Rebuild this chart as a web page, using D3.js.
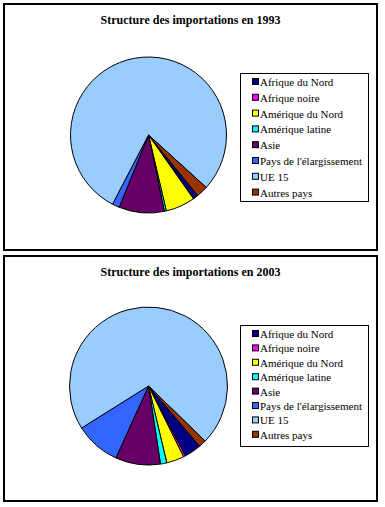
<!DOCTYPE html>
<html><head><meta charset="utf-8">
<script src="https://cdn.jsdelivr.net/npm/d3@7"></script>
<style>body{margin:0;background:#fff}svg{display:block}</style>
</head><body>
<script>
const categories = ["Afrique du Nord","Afrique noire","Amérique du Nord","Amérique latine","Asie","Pays de l'élargissement","UE 15","Autres pays"];
const colors = ["#000080","#FF00FF","#FFFF00","#00FFFF","#660066","#3366FF","#99CCFF","#993300"];
const values1993 = [1.0, 0.1, 6.1, 0.4, 9.4, 1.5, 79.1, 2.4];
const values2003 = [3.5, 0.4, 3.6, 1.3, 9.2, 9.3, 71.2, 1.5];
const titles = ["Structure des importations en 1993","Structure des importations en 2003"];

const svg = d3.select("body").append("svg").attr("width",385).attr("height",507);

const charts = [
  {title: titles[0], values: values1993, y0: 4, h: 246, cy: 135, r: 78, start: 140.9, legY: 73, legH: 128, step: 15.8},
  {title: titles[1], values: values2003, y0: 256, h: 245, cy: 386, r: 79, start: 139.6, legY: 325, legH: 121, step: 14.4}
];

charts.forEach(c => {
  const g = svg.append("g");
  g.append("rect").attr("x",4).attr("y",c.y0).attr("width",373).attr("height",c.h)
    .attr("fill","#fff").attr("stroke","#000").attr("stroke-width",2);
  g.append("text").attr("x",190.5).attr("y",c.y0+20).attr("text-anchor","middle")
    .attr("font-family","Liberation Serif, Times New Roman, serif").attr("font-weight","bold")
    .attr("font-size",12).text(c.title);
  const a0 = c.start*Math.PI/180;
  const pie = d3.pie().sort(null).startAngle(a0).endAngle(a0+2*Math.PI);
  const arc = d3.arc().innerRadius(0).outerRadius(c.r);
  g.append("g").attr("transform",`translate(148.5,${c.cy})`)
    .selectAll("path").data(pie(c.values)).join("path")
    .attr("d",arc).attr("fill",(d,i)=>colors[i]).attr("stroke","#000").attr("stroke-width",1)
    .attr("stroke-linejoin","round");
  const lg = g.append("g");
  lg.append("rect").attr("x",240.5).attr("y",c.legY+0.5).attr("width",128).attr("height",c.legH)
    .attr("fill","#fff").attr("stroke","#000").attr("stroke-width",1);
  const yScale = d3.scalePoint().domain(categories).range([c.legY+9, c.legY+9+c.step*7]);
  categories.forEach((cat,i)=>{
    const y = yScale(cat);
    lg.append("rect").attr("x",252.5).attr("y",y-3.5).attr("width",6).attr("height",6)
      .attr("fill",colors[i]).attr("stroke","#000").attr("stroke-width",1);
    lg.append("text").attr("x",260).attr("y",y+4)
      .attr("font-family","Liberation Serif, Times New Roman, serif").attr("font-size",11)
      .text(cat);
  });
});
</script>
</body></html>
